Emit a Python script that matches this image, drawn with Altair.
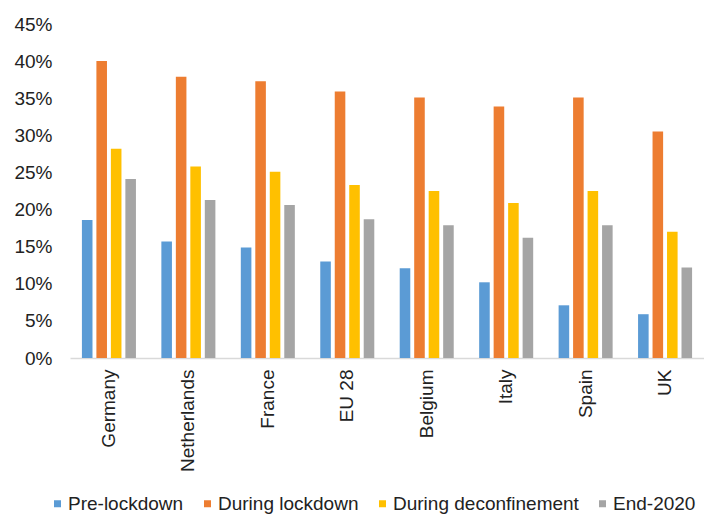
import altair as alt
import pandas as pd

countries = ["Germany", "Netherlands", "France", "EU 28", "Belgium", "Italy", "Spain", "UK"]
series = ["Pre-lockdown", "During lockdown", "During deconfinement", "End-2020"]
pre_lockdown = [18.6, 15.7, 14.9, 13.0, 12.1, 10.2, 7.1, 5.9]
during_lockdown = [40.0, 37.9, 37.3, 35.9, 35.1, 33.9, 35.1, 30.5]
during_deconf = [28.2, 25.8, 25.1, 23.3, 22.5, 20.9, 22.5, 17.0]
end_2020 = [24.1, 21.3, 20.6, 18.7, 17.9, 16.2, 17.9, 12.2]
colors = ["#5B9BD5", "#ED7D31", "#FFC000", "#A5A5A5"]

rows = []
for name, vals in zip(series, [pre_lockdown, during_lockdown, during_deconf, end_2020]):
    for c, v in zip(countries, vals):
        rows.append({"country": c, "series": name, "value": v / 100})
df = pd.DataFrame(rows)

FONT = "Liberation Sans"
TXT = "#222222"

chart = alt.Chart(df).mark_bar().encode(
    x=alt.X("country:N", sort=countries, title=None,
            scale=alt.Scale(paddingInner=0.32, paddingOuter=0.15),
            axis=alt.Axis(labelAngle=-90, labelAlign="right", labelBaseline="middle",
                          labelFontSize=19, labelFont=FONT, labelColor=TXT,
                          labelPadding=11, tickSize=0, domainColor="#D9D9D9",
                          domainWidth=1.5)),
    xOffset=alt.XOffset("series:N", sort=series, scale=alt.Scale(paddingInner=0.27)),
    y=alt.Y("value:Q", title=None,
            scale=alt.Scale(domain=[0, 0.45], nice=False),
            axis=alt.Axis(format=".0%", values=[i * 0.05 for i in range(10)],
                          grid=False, domain=False, ticks=False,
                          labelFontSize=19, labelFont=FONT, labelColor=TXT,
                          labelPadding=18)),
    color=alt.Color("series:N", sort=series, title=None,
                    scale=alt.Scale(domain=series, range=colors),
                    legend=alt.Legend(orient="none", direction="horizontal",
                                      legendX=-22, legendY=470,
                                      symbolType="square", symbolSize=49,
                                      symbolStrokeWidth=0, labelOffset=1,
                                      labelFontSize=19, labelFont=FONT,
                                      labelColor=TXT, columnPadding=14,
                                      labelLimit=300)),
).properties(
    width=634, height=334,
    padding={"left": 5, "right": 0, "top": 7, "bottom": 0},
).configure_view(stroke=None)

chart.save("out.html", embed_options={"renderer": "svg", "actions": False})
